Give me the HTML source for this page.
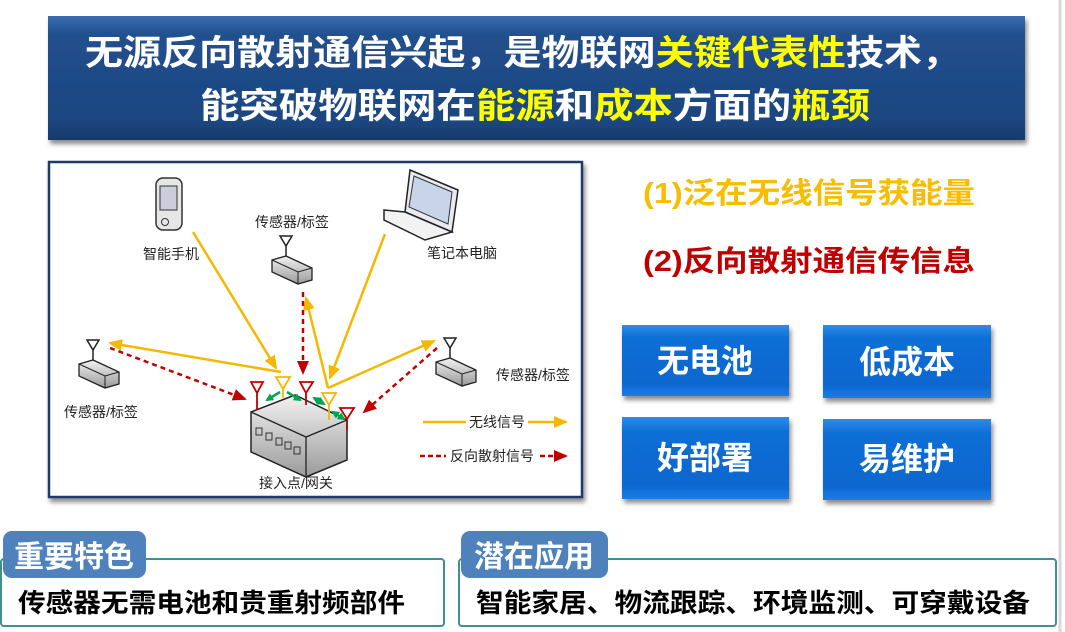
<!DOCTYPE html>
<html><head><meta charset="utf-8">
<style>
html,body{margin:0;padding:0;background:#fff;}
body{width:1065px;height:632px;position:relative;overflow:hidden;font-family:"Liberation Sans","Noto Sans CJK SC",sans-serif;}
svg text{font-family:"Liberation Sans","Noto Sans CJK SC",sans-serif;}
</style></head><body>
<svg width="1065" height="632" viewBox="0 0 1065 632" xmlns="http://www.w3.org/2000/svg" style="position:absolute;left:0;top:0">
<defs>
<linearGradient id="tg" x1="0" y1="0" x2="0" y2="1"><stop offset="0" stop-color="#3a6cb0"/><stop offset="0.15" stop-color="#21508d"/><stop offset="0.85" stop-color="#1d4680"/><stop offset="1" stop-color="#163a6a"/></linearGradient>
<linearGradient id="bg" x1="0" y1="0" x2="0" y2="1"><stop offset="0" stop-color="#2f8be8"/><stop offset="0.18" stop-color="#0d6fd6"/><stop offset="0.82" stop-color="#0a66cf"/><stop offset="1" stop-color="#1d7ce6"/></linearGradient>
<filter id="sh" x="-5%" y="-5%" width="110%" height="120%"><feDropShadow dx="2" dy="4" stdDeviation="2.5" flood-color="#000" flood-opacity="0.45"/></filter>
<marker id="ay2" markerWidth="14" markerHeight="12" refX="12" refY="6" orient="auto" markerUnits="userSpaceOnUse"><path d="M0,0 L14,6 L0,12 z" fill="#f5b800"/></marker>
<marker id="ar" markerWidth="14" markerHeight="12" refX="12" refY="6" orient="auto" markerUnits="userSpaceOnUse"><path d="M0,0 L14,6 L0,12 z" fill="#c00000"/></marker>
<marker id="ag" markerWidth="8" markerHeight="8" refX="6" refY="4" orient="auto" markerUnits="userSpaceOnUse"><path d="M0,0 L8,4 L0,8 z" fill="#00a651"/></marker>
<marker id="ags" markerWidth="8" markerHeight="8" refX="2" refY="4" orient="auto" markerUnits="userSpaceOnUse"><path d="M8,0 L0,4 L8,8 z" fill="#00a651"/></marker>
<linearGradient id="dev" x1="0" y1="0" x2="0" y2="1"><stop offset="0" stop-color="#f2f2f2"/><stop offset="1" stop-color="#9a9a9a"/></linearGradient>
<g id="sens">
<path d="M-6,0 L6,0 L0,10 Z" fill="none" stroke="#222" stroke-width="1.5"/>
<line x1="0" y1="10" x2="0" y2="20" stroke="#222" stroke-width="1.5"/>
<path d="M-14,24 L0,20 L26,32 L26,44 L12,48 L-14,36 Z" fill="url(#dev)" stroke="#222" stroke-width="1.3"/>
<path d="M-14,24 L12,36 L26,32" fill="none" stroke="#222"/>
<line x1="12" y1="36" x2="12" y2="48" stroke="#222"/>
</g>
</defs>
<line x1="1060" y1="0" x2="1060" y2="632" stroke="#d8d8d8" stroke-width="3"/>
<!-- title -->
<rect x="48" y="16" width="977" height="124" fill="url(#tg)" filter="url(#sh)"/>
<text x="85" y="65" textLength="875" lengthAdjust="spacingAndGlyphs" font-size="35" font-weight="bold" fill="#fff">无源反向散射通信兴起，是物联网<tspan fill="#ffff00">关键代表性</tspan>技术，</text>
<text x="200" y="118" textLength="670" lengthAdjust="spacingAndGlyphs" font-size="35" font-weight="bold" fill="#fff">能突破物联网在<tspan fill="#ffff00">能源</tspan>和<tspan fill="#ffff00">成本</tspan>方面的<tspan fill="#ffff00">瓶颈</tspan></text>
<!-- diagram frame -->
<rect x="49" y="162" width="533" height="335" fill="#fff" stroke="#1f3a68" stroke-width="2.5" filter="url(#sh)"/>
<!-- phone -->
<rect x="156" y="178" width="26" height="52" rx="7" fill="#e6e6e6" stroke="#333" stroke-width="1.5"/>
<rect x="160" y="186" width="17" height="24" fill="#ccd" stroke="#333"/>
<circle cx="165" cy="222" r="3.5" fill="none" stroke="#333"/>
<text x="171" y="259" text-anchor="middle" font-size="14" fill="#222">智能手机</text>
<!-- laptop -->
<path d="M410,170 L458,190 L452,232 L405,212 Z" fill="#e8eaf0" stroke="#222" stroke-width="1.5"/>
<path d="M414,176 L452,192 L448,224 L409,207 Z" fill="#c8d4e8" stroke="#333"/>
<path d="M384,210 L405,212 L452,232 L425,240 L384,220 Z" fill="#f2f2f2" stroke="#222" stroke-width="1.5"/>
<text x="462" y="258" text-anchor="middle" font-size="14" fill="#222">笔记本电脑</text>
<!-- sensors -->
<use href="#sens" x="286" y="236"/>
<text x="292" y="227" text-anchor="middle" font-size="14" fill="#222">传感器/标签</text>
<use href="#sens" x="93" y="340"/>
<text x="101" y="417" text-anchor="middle" font-size="14" fill="#222">传感器/标签</text>
<use href="#sens" x="450" y="338"/>
<text x="533" y="380" text-anchor="middle" font-size="14" fill="#222">传感器/标签</text>
<!-- gateway -->
<path d="M251,412 L295,395 L347,420 L347,460 L306,477 L251,452 Z" fill="url(#dev)" stroke="#222" stroke-width="1.5"/>
<path d="M251,412 L306,437 L347,420" fill="none" stroke="#222" stroke-width="1.3"/>
<line x1="306" y1="437" x2="306" y2="477" stroke="#222" stroke-width="1.3"/>
<g fill="none" stroke="#333"><rect x="256" y="428" width="6" height="7"/><rect x="266" y="433" width="6" height="7"/><rect x="276" y="438" width="6" height="7"/><rect x="285" y="442" width="6" height="7"/><rect x="294" y="447" width="6" height="7"/></g>
<text x="296" y="488" text-anchor="middle" font-size="14" fill="#222">接入点/网关</text>
<!-- gateway antennas -->
<g stroke-width="1.8" fill="none">
<path d="M251,382 L263,382 L257,393 Z M257,393 L257,410" stroke="#c00000"/>
<path d="M276,377 L290,377 L283,389 Z M283,389 L283,398" stroke="#f5b800"/>
<path d="M300,382 L313,382 L306,393 Z M306,393 L306,405" stroke="#c00000"/>
<path d="M322,393 L336,393 L329,405 Z M329,405 L329,420" stroke="#f5b800"/>
<path d="M340,408 L354,408 L347,419 Z M347,419 L347,430" stroke="#c00000"/>
</g>
<g stroke="#00a651" stroke-width="2.5">
<line x1="280" y1="392" x2="267" y2="400" marker-end="url(#ag)"/>
<line x1="287" y1="392" x2="300" y2="400" marker-end="url(#ag)"/>
<line x1="314" y1="398" x2="324" y2="404" marker-end="url(#ag)" marker-start="url(#ags)"/>
<line x1="333" y1="412" x2="344" y2="419" marker-end="url(#ag)" marker-start="url(#ags)"/>
</g>
<!-- yellow signals -->
<g stroke="#f5b800" stroke-width="2.5" fill="none">
<line x1="193" y1="232" x2="276" y2="368" marker-end="url(#ay2)"/>
<line x1="385" y1="234" x2="330" y2="378" marker-end="url(#ay2)"/>
<line x1="281" y1="372" x2="110" y2="343" marker-end="url(#ay2)"/>
<line x1="328" y1="388" x2="434" y2="341" marker-end="url(#ay2)"/>
<line x1="328" y1="388" x2="306" y2="298" marker-end="url(#ay2)"/>
</g>
<!-- red dashed -->
<g stroke="#c00000" stroke-width="2.5" fill="none" stroke-dasharray="5,4">
<line x1="303" y1="292" x2="303" y2="373" marker-end="url(#ar)"/>
<line x1="110" y1="348" x2="245" y2="399" marker-end="url(#ar)"/>
<line x1="437" y1="348" x2="364" y2="412" marker-end="url(#ar)"/>
</g>
<!-- legend -->
<line x1="423" y1="422" x2="466" y2="422" stroke="#f5b800" stroke-width="2.5"/>
<text x="497" y="427" text-anchor="middle" font-size="14" fill="#222">无线信号</text>
<line x1="528" y1="422" x2="566" y2="422" stroke="#f5b800" stroke-width="2.5" marker-end="url(#ay2)"/>
<line x1="420" y1="456" x2="446" y2="456" stroke="#c00000" stroke-width="2.5" stroke-dasharray="5,3"/>
<text x="492" y="461" text-anchor="middle" font-size="14" fill="#222">反向散射信号</text>
<line x1="540" y1="456" x2="566" y2="456" stroke="#c00000" stroke-width="2.5" stroke-dasharray="5,3" marker-end="url(#ar)"/>
<!-- right text -->
<text x="643" y="203" textLength="332" lengthAdjust="spacingAndGlyphs" font-size="29" font-weight="bold" fill="#f7bd00">(1)泛在无线信号获能量</text>
<text x="643" y="271" textLength="332" lengthAdjust="spacingAndGlyphs" font-size="29" font-weight="bold" fill="#c00000">(2)反向散射通信传信息</text>
<!-- buttons -->
<g filter="url(#sh)">
<rect x="622" y="325" width="167" height="71" fill="url(#bg)"/>
<rect x="823" y="325" width="168" height="73" fill="url(#bg)"/>
<rect x="622" y="417" width="167" height="82" fill="url(#bg)"/>
<rect x="823" y="419" width="168" height="81" fill="url(#bg)"/>
</g>
<g font-size="32" font-weight="bold" fill="#fff" text-anchor="middle">
<text x="705" y="372">无电池</text>
<text x="907" y="373">低成本</text>
<text x="705" y="469">好部署</text>
<text x="907" y="470">易维护</text>
</g>
<!-- bottom boxes -->
<rect x="1" y="559" width="443" height="67" rx="3" fill="#fff" stroke="#3f8f93" stroke-width="2"/>
<rect x="3" y="531" width="143" height="47" rx="9" fill="#4f81bd"/>
<text x="74" y="567" text-anchor="middle" font-size="30" font-weight="bold" fill="#fff">重要特色</text>
<text x="18" y="612" textLength="387" lengthAdjust="spacingAndGlyphs" font-size="26" font-weight="bold" fill="#000">传感器无需电池和贵重射频部件</text>
<rect x="459" y="559" width="597" height="67" rx="3" fill="#fff" stroke="#3f8f93" stroke-width="2"/>
<rect x="461" y="531" width="147" height="47" rx="9" fill="#4f81bd"/>
<text x="534" y="567" text-anchor="middle" font-size="30" font-weight="bold" fill="#fff">潜在应用</text>
<text x="476" y="612" textLength="554" lengthAdjust="spacingAndGlyphs" font-size="26" font-weight="bold" fill="#000">智能家居、物流跟踪、环境监测、可穿戴设备</text>
</svg>
</body></html>
